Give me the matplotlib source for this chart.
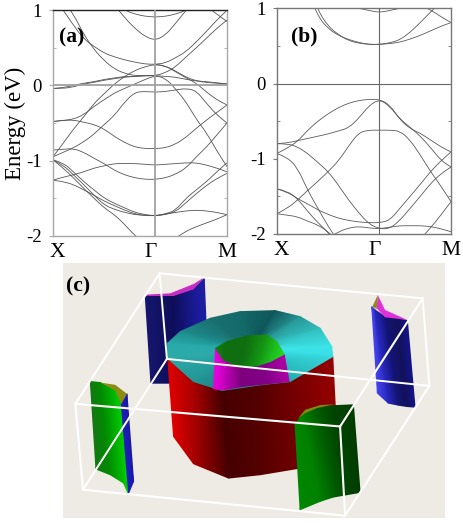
import numpy as np
import matplotlib
matplotlib.use('Agg')
import matplotlib.pyplot as plt
from matplotlib.patches import PathPatch
from matplotlib.path import Path
from matplotlib.transforms import ScaledTranslation

plt.rcParams['font.family'] = ['Liberation Serif', 'DejaVu Serif']

W, H = 464, 523
n = np.nan

# k path: X=0, Gamma=1, M=1.7
K = [0, .1, .2, .3, .4, .5, .6, .7, .8, .9, 1, 1.1, 1.2, 1.3, 1.4, 1.5, 1.6, 1.7]

# panel (a) bands, eV
BANDS_A = [
    [n, n, n, n, n, n, 1.07, .9, .76, .65, .6, .67, .83, 1.0, 1.15, n, n, n],
    [n, n, n, n, n, n, 1.1, 1.0, .95, .92, .91, .92, .95, 1.0, 1.07, 1.05, .95, .85],
    [n, 1.0, .8, .62, .52, .43, .38, .34, .31, .285, .28, .3, .37, .45, .58, .72, .87, 1.0],
    [n, 1.15, .95, .68, .48, .33, .22, .16, .13, .13, .13, .17, .25, .38, .5, .63, .76, .87],
    [-.95, -.77, -.58, -.42, -.24, -.11, .02, .12, .2, .25, .28, .26, .18, .1, .03, -.09, -.19, -.26],
    [-.48, -.465, -.45, -.39, -.28, -.19, -.1, -.04, .02, .08, .13, .095, -.05, -.22, -.45, -.63, -.87, -1.08],
    [-.95, -.89, -.83, -.75, -.65, -.52, -.4, -.22, -.09, -.08, -.09, -.08, -.06, -.04, -.07, -.24, -.39, -.5],
    [-.04, -.04, -.02, .02, .04, .07, .09, .11, .12, .13, .13, .12, .11, .08, .06, .04, .03, .02],
    [-.04, -.03, 0, .03, .05, .08, .1, .12, .12, .13, .13, n, n, n, n, n, n, n],
    [n, n, n, n, n, n, n, n, n, n, .28, .26, .19, .11, .06, .05, .035, .02],
    [-.48, -.465, -.46, -.49, -.52, -.58, -.68, -.76, -.82, -.84, -.84, -.83, -.78, -.69, -.57, -.46, -.36, -.26],
    [-.86, -.85, -.84, -.89, -.97, -1.04, -1.13, -1.19, -1.23, -1.25, -1.25, -1.23, -1.18, -1.1, -.95, -.82, -.66, -.5],
    [-.99, -1.1, -1.23, -1.37, -1.5, -1.63, -1.72, -1.85, -2.0, -2.1, -2.15, -2.12, -2.03, -1.94, -1.88, -1.83, -1.78, -1.72],
    [-.99, -1.03, -1.15, -1.28, -1.39, -1.5, -1.57, -1.63, -1.69, -1.72, -1.735, -1.71, -1.66, -1.5, -1.39, -1.28, -1.15, -1.03],
    [-.99, -1.06, -1.19, -1.32, -1.46, -1.59, -1.65, -1.69, -1.72, -1.73, -1.735, -1.72, -1.68, -1.56, -1.44, -1.33, -1.24, -1.17],
    [-1.26, -1.28, -1.32, -1.39, -1.46, -1.54, -1.6, -1.66, -1.71, -1.73, -1.735, -1.71, -1.69, -1.67, -1.66, -1.67, -1.69, -1.72],
    [-1.26, -1.22, -1.19, -1.15, -1.1, -1.07, -1.04, -1.04, -1.04, -1.05, -1.06, -1.05, -1.04, -1.03, -1.03, -1.06, -1.1, -1.15],
]

# panel (b) bands, eV
BANDS_B = [
    [n, n, n, 1.2, .89, .73, .64, .585, .545, .52, .52, .53, .55, .59, .64, .7, .76, .81],
    [n, n, n, 1.3, .97, .76, .65, .57, .535, .52, .52, .54, .58, .68, .81, .95, 1.08, n],
    [n, n, n, n, n, n, n, n, 1.0, .97, .945, .97, 1.0, 1.03, 1.04, .98, .89, .81],
    [-.93, -.86, -.77, -.62, -.5, -.4, -.32, -.26, -.225, -.21, -.21, -.28, -.48, -.6, -.66, -.75, -.84, -.91],
    [-.8, -.79, -.76, -.73, -.7, -.67, -.63, -.59, -.46, -.29, -.21, -.3, -.47, -.58, -.7, -.85, -1.02, -1.11],
    [-1.73, -1.66, -1.55, -1.42, -1.3, -1.17, -1.03, -.83, -.65, -.62, -.62, -.62, -.63, -.75, -.95, -1.17, -1.36, -1.57],
    [-.8, -.8, -.84, -.93, -1.05, -1.17, -1.35, -1.55, -1.72, -1.87, -1.93, -1.93, -1.82, -1.66, -1.5, -1.33, -1.2, -1.11],
    [-.93, -.98, -1.12, -1.42, -1.66, -1.9, -2.1, n, n, n, n, n, n, n, n, n, n, n],
    [-1.4, -1.44, -1.53, -1.6, -1.68, -1.74, -1.79, -1.82, -1.84, -1.85, -1.85, -1.82, -1.66, -1.5, -1.34, -1.17, -1.03, -.91],
    [n, n, n, n, n, -2.05, -1.97, -1.92, -1.9, -1.92, -1.93, -1.91, -1.89, -1.89, -1.89, -1.9, -1.93, -1.97],
    [-1.4, -1.43, -1.53, -1.7, -1.85, -1.98, -2.15, n, n, n, n, n, n, n, n, n, n, n],
    [-1.73, -1.75, -1.77, -1.83, -1.88, -1.97, -2.1, n, n, n, n, n, n, n, n, n, n, n],
    [n, n, n, n, n, n, n, n, n, n, n, n, n, n, -2.07, -1.92, -1.75, -1.57],
]

K_TICKS = [0, 1, 1.7]
K_LABELS = ['X', 'Γ', 'M']
K_SHIFT = [4, -5, 0]
E_TICKS = [-2, -1, 0, 1]
E_LABELS = ['-2', '-1', '0', '1']
E_MINOR = [-1.5, -.5, .5]

# panel (c): 3D Fermi surface sheets, picture coordinates of the scene
BOX_BACK = [
    ([298, 1088], [40, 115]),
    ([298, 320], [40, 297]),
    ([320, 1108], [297, 378]),
    ([68, 320], [690, 297]),
    ([1088, 1108], [115, 378]),
]
BOX_FRONT = [
    ([45, 840], [432, 500]),
    ([45, 298], [432, 40]),
    ([840, 1088], [500, 115]),
    ([45, 68], [432, 690]),
    ([840, 855], [500, 768]),
    ([68, 855], [690, 768]),
    ([855, 1108], [768, 378]),
]

SHEET_BACK_L = {
    'top': [(255, 108), (340, 108), (400, 88), (432, 55)],
    'bot': [(272, 370), (335, 370), (420, 370), (445, 370)],
    'rgb': [(22, 22, 110), (14, 14, 90), (26, 26, 150), (30, 30, 165)],
}
CAP_BACK_L = [(255, 104), (330, 100), (400, 72), (432, 52), (400, 88), (340, 108), (255, 108)]

SHEET_BACK_R = {
    'top': [(935, 140), (945, 150), (975, 170), (1010, 175), (1042, 182)],
    'bot': [(952, 400), (985, 430), (1015, 436), (1040, 440), (1065, 442)],
    'rgb': [(70, 70, 240), (40, 40, 190), (20, 20, 120), (18, 18, 90), (20, 20, 140)],
}
CAP_BACK_R_M = [(953, 105), (975, 150), (1042, 180), (975, 172), (950, 145)]
CAP_BACK_R_O = [(953, 105), (937, 140), (950, 147)]

RED_TOP = [(322, 290), (400, 365), (485, 392), (600, 375), (690, 365), (818, 290)]
RED_BOT = [(340, 530), (400, 612), (505, 655), (600, 645), (720, 625), (826, 450)]
RED_RGB = [(225, 0, 0), (170, 0, 0), (70, 0, 0), (85, 0, 0), (115, 0, 0), (150, 0, 0)]

RIM = [(322, 250), (360, 215), (450, 175), (540, 155), (645, 152), (720, 170), (780, 205), (815, 260),
       (818, 290), (690, 365), (600, 375), (485, 392), (400, 365), (322, 295), (322, 250)]
RIM_RGB = [(40, 170, 170), (30, 140, 140), (25, 110, 110), (20, 105, 105), (15, 85, 90), (40, 150, 150),
           (50, 190, 190), (60, 230, 235), (55, 220, 225), (35, 170, 170), (30, 160, 160), (30, 130, 130),
           (35, 150, 150), (45, 170, 170), (40, 170, 170)]
RIM_CENTER = (570, 270)

MAG_TOP = [(466, 265), (490, 300), (540, 322), (610, 312), (672, 283)]
MAG_BOT = [(460, 387), (490, 390), (545, 380), (620, 372), (687, 365)]
MAG_RGB = [(235, 0, 225), (200, 0, 190), (125, 0, 125), (130, 0, 135), (175, 0, 165)]

GREEN_TOP = [(466, 265), (500, 245), (560, 228), (620, 225), (650, 245), (672, 283)]
GREEN_BOT = [(466, 265), (490, 300), (540, 322), (590, 318), (630, 305), (672, 283)]
GREEN_RGB = [(20, 130, 20), (15, 110, 15), (15, 110, 15), (20, 150, 20), (30, 190, 30), (40, 215, 40)]

SHEET_FRONT_L = {
    'top': [(90, 365), (120, 368), (165, 392), (183, 432)],
    'bot': [(107, 628), (150, 645), (190, 670), (203, 700)],
    'rgb': [(20, 120, 20), (0, 140, 0), (0, 190, 0), (0, 210, 0)],
}
FACE_FRONT_L = {
    'top': [(183, 432), (200, 402)],
    'bot': [(205, 700), (220, 665)],
    'rgb': [(30, 30, 190), (25, 25, 165)],
}
CAP_FRONT_L = [(120, 368), (165, 375), (200, 402), (183, 432), (165, 392)]

SHEET_FRONT_R = {
    'top': [(705, 495), (725, 465), (760, 448), (810, 438), (880, 435)],
    'bot': [(720, 750), (780, 725), (820, 712), (860, 705), (900, 698)],
    'rgb': [(0, 135, 0), (0, 130, 0), (0, 100, 0), (0, 70, 0), (0, 60, 0)],
}
CAP_FRONT_R = [(715, 475), (735, 450), (780, 436), (825, 433), (770, 445), (735, 460)]


def smooth_path(ks, es):
    # quadratic beziers through the midpoints of the read points
    pts = np.column_stack([ks, es])
    verts = [pts[0]]
    codes = [Path.MOVETO]
    for i in range(1, len(pts) - 1):
        verts += [pts[i], (pts[i] + pts[i + 1]) / 2]
        codes += [Path.CURVE3, Path.CURVE3]
    verts.append(pts[-1])
    codes.append(Path.LINETO)
    return Path(verts, codes)


def draw_bands(ax, bands, line_color, lw, mid_color, mid_lw, frame_color, top_color):
    k = np.array(K)
    for band in bands:
        e = np.array(band)
        ok = np.isfinite(e)
        ax.add_patch(PathPatch(smooth_path(k[ok], e[ok]), fc='none', ec=line_color, lw=lw, zorder=2))
    ax.axvline(1, color=mid_color, lw=mid_lw, zorder=3)
    ax.axhline(0, color=mid_color, lw=mid_lw, zorder=3)
    ax.set_xlim(0, 1.7)
    ax.set_ylim(-2, 1)
    ax.set_xticks(K_TICKS, K_LABELS, fontsize=15.5)
    ax.set_yticks(E_TICKS, E_LABELS, fontsize=13.5)
    ax.set_yticks(E_MINOR, minor=True)
    ax.tick_params(axis='x', length=0, pad=5)
    ax.tick_params(axis='y', which='major', length=3, width=.8, pad=5, color=frame_color, direction='out')
    ax.tick_params(axis='y', which='minor', length=2, width=.6, color=frame_color, direction='in', right=True)
    for lab, dx in zip(ax.get_xticklabels(), K_SHIFT):
        lab.set_transform(lab.get_transform() + ScaledTranslation(dx / 100, 0, ax.figure.dpi_scale_trans))
    for side, spine in ax.spines.items():
        spine.set_color(top_color if side == 'top' else frame_color)
        spine.set_linewidth(1.0)


def shaded(ax, sheet):
    top = np.array(sheet['top'], float)
    bot = np.array(sheet['bot'], float)
    rgb = np.array(sheet['rgb'], float) / 255
    mesh_x = np.vstack([top[:, 0], bot[:, 0]])
    mesh_y = np.vstack([top[:, 1], bot[:, 1]])
    ax.pcolormesh(mesh_x, mesh_y, np.stack([rgb, rgb]), shading='gouraud')


def poly(ax, pts, color):
    pts = np.array(pts)
    ax.fill(pts[:, 0], pts[:, 1], color=color, lw=0)


def draw_scene(ax):
    ax.set_facecolor('#eeebe5')
    ax.set_xticks([])
    ax.set_yticks([])
    for spine in ax.spines.values():
        spine.set_visible(False)

    for xs, ys in BOX_BACK:
        ax.plot(xs, ys, color='white', lw=1.4)

    shaded(ax, SHEET_BACK_L)
    poly(ax, CAP_BACK_L, '#c82cc0')
    shaded(ax, SHEET_BACK_R)
    poly(ax, CAP_BACK_R_M, '#e030d8')
    poly(ax, CAP_BACK_R_O, '#8c8c10')

    shaded(ax, {'top': RED_TOP, 'bot': RED_BOT, 'rgb': RED_RGB})
    shaded(ax, {'top': RIM, 'bot': [RIM_CENTER] * len(RIM), 'rgb': RIM_RGB})
    shaded(ax, {'top': MAG_TOP, 'bot': MAG_BOT, 'rgb': MAG_RGB})
    shaded(ax, {'top': GREEN_TOP, 'bot': GREEN_BOT, 'rgb': GREEN_RGB})

    shaded(ax, SHEET_FRONT_L)
    shaded(ax, FACE_FRONT_L)
    poly(ax, CAP_FRONT_L, '#8c8c10')
    shaded(ax, SHEET_FRONT_R)
    poly(ax, CAP_FRONT_R, '#7f8a10')

    for xs, ys in BOX_FRONT:
        ax.plot(xs, ys, color='white', lw=1.5)
    ax.set_xlim(8, 1155)
    ax.set_ylim(775, 8)
    ax.text(18, 80, '(c)', fontsize=15.5, fontweight='bold', color='black', va='center', ha='left')


fig = plt.figure(figsize=(W / 100, H / 100), dpi=100, facecolor='white')


def px_axes(x0, y0, x1, y1):
    return fig.add_axes([x0 / W, 1 - y1 / H, (x1 - x0) / W, (y1 - y0) / H])


ax_a = px_axes(53, 10.3, 227, 235.7)
ax_b = px_axes(277, 8.3, 451, 234)
ax_c = px_axes(63, 262.7, 445, 518)

draw_bands(ax_a, BANDS_A, '#555555', .6, '#a0a0a0', 1.3, '#a8a8a8', '#222222')
draw_bands(ax_b, BANDS_B, '#5a5a5a', .6, '#666666', .8, '#777777', '#777777')
ax_a.set_ylabel('Energy (eV)', fontsize=16.5)
ax_a.yaxis.set_label_coords(-.155, .5)
ax_a.text(.06, .575, '(a)', fontsize=15.5, fontweight='bold')
ax_b.text(.137, .56, '(b)', fontsize=15.5, fontweight='bold')
draw_scene(ax_c)

fig.savefig('out.png', dpi=100)
